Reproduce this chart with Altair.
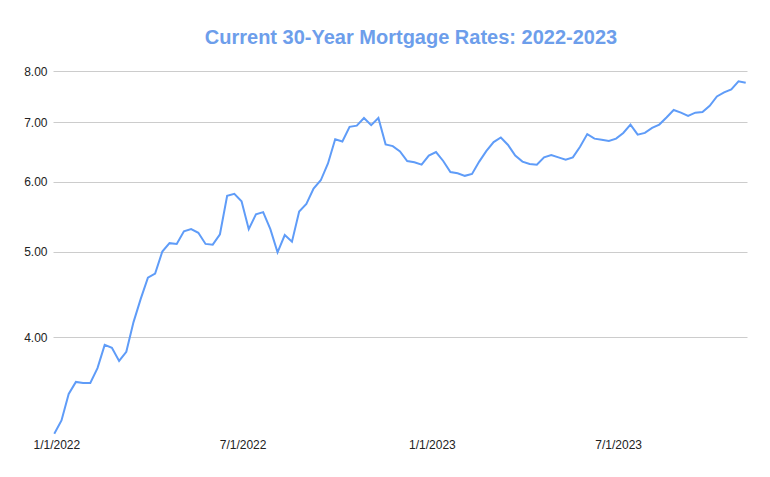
import altair as alt
import pandas as pd

# Weekly 30-year fixed mortgage rates (Thursdays), starting 2021-12-30
start_date = "2021-12-30"
rates_2021 = [3.11]
rates_2022 = [3.22, 3.45, 3.56, 3.55, 3.55, 3.69, 3.92, 3.89, 3.76, 3.85, 4.16, 4.42, 4.67,
              4.72, 5.00, 5.11, 5.10, 5.27, 5.30, 5.25, 5.10, 5.09, 5.23, 5.78, 5.81, 5.70,
              5.30, 5.51, 5.54, 5.30, 4.99, 5.22, 5.13, 5.55, 5.66, 5.89, 6.02, 6.29, 6.70,
              6.66, 6.92, 6.94, 7.08, 6.95, 7.08, 6.61, 6.58, 6.49, 6.33, 6.31, 6.27, 6.42]
rates_2023 = [6.48, 6.33, 6.15, 6.13, 6.09, 6.12, 6.32, 6.50, 6.65, 6.73, 6.60, 6.42, 6.32,
              6.28, 6.27, 6.39, 6.43, 6.39, 6.35, 6.39, 6.57, 6.79, 6.71, 6.69, 6.67, 6.71,
              6.81, 6.96, 6.78, 6.81, 6.90, 6.96, 7.09, 7.23, 7.18, 7.12, 7.18, 7.19, 7.31,
              7.49, 7.57, 7.63, 7.79, 7.76]
rates = rates_2021 + rates_2022 + rates_2023

y_ticks = [4, 5, 6, 7, 8]
x_ticks = [(2022, 1, 1), (2022, 7, 1), (2023, 1, 1), (2023, 7, 1)]

dates = pd.date_range(start_date, periods=len(rates), freq="7D")
df = pd.DataFrame({"date": dates.strftime("%Y-%m-%dT00:00:00"), "rate": rates})

line_color = "#5f9cf8"
title_color = "#6d9eeb"
font = "Liberation Sans"

chart = (
    alt.Chart(df)
    .mark_line(color=line_color, strokeWidth=2)
    .encode(
        x=alt.X(
            "date:T",
            title=None,
            scale=alt.Scale(
                domain=[
                    alt.DateTime(year=2021, month=12, date=28, hours=18),
                    alt.DateTime(year=2023, month=11, date=3, hours=6),
                ],
                nice=False,
            ),
            axis=alt.Axis(
                values=[alt.DateTime(year=y, month=m, date=d) for (y, m, d) in x_ticks],
                format="%-m/%-d/%Y",
                grid=False,
                domain=False,
                ticks=False,
                labelPadding=4,
            ),
        ),
        y=alt.Y(
            "rate:Q",
            title=None,
            scale=alt.Scale(type="log", domain=[3.1, 8.3], nice=False, zero=False),
            axis=alt.Axis(
                values=y_ticks,
                format=".2f",
                grid=True,
                domain=False,
                ticks=False,
                labelPadding=6,
            ),
        ),
    )
    .properties(
        width=694,
        height=378,
        autosize="none",
        padding={"left": 45, "top": 49, "right": 15, "bottom": 26},
        title=alt.TitleParams(
            "Current 30-Year Mortgage Rates: 2022-2023",
            font=font,
            fontSize=20,
            fontWeight="bold",
            color=title_color,
            anchor="middle",
            dx=11,
            dy=18,
            offset=11,
            baseline="alphabetic",
        ),
    )
    .configure_view(stroke=None)
    .configure_axis(
        labelFont=font,
        labelFontSize=12,
        labelColor="#222222",
        gridColor="#cccccc",
        gridWidth=1,
    )
)

chart.save("out.html", embed_options={"renderer": "svg", "actions": False})
